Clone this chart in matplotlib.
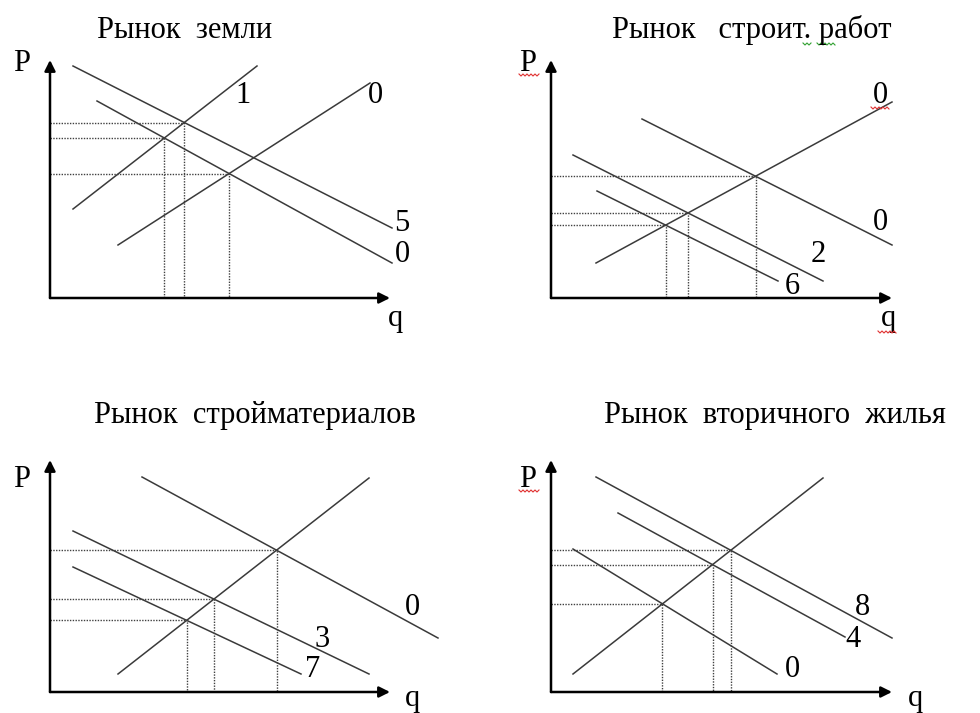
import numpy as np
import matplotlib.pyplot as plt

# отрезки кривых: (q0, P0, q1, P1), единицы - пиксели от начала координат панели
titles = ["Рынок  земли", "Рынок   строит. работ",
          "Рынок  стройматериалов", "Рынок  вторичного  жилья"]

land_lines = [(23, 232, 342, 70), (47, 197, 342, 35), (23, 89, 207, 232), (68, 53, 320, 215)]
land_tags = ["5", "0", "1", "0"]
land_eq = [(0, 2), (1, 2), (1, 3)]

works_lines = [(45, 35, 341, 196), (91, 179, 341, 53), (22, 143, 272, 17), (46, 107, 227, 17)]
works_tags = ["0", "0", "2", "6"]
works_eq = [(1, 0), (2, 0), (3, 0)]

mat_lines = [(68, 18, 319, 214), (92, 215, 388, 54), (23, 161, 319, 18), (23, 125, 251, 18)]
mat_tags = [None, "0", "3", "7"]
mat_eq = [(1, 0), (2, 0), (3, 0)]

flat_lines = [(22, 18, 272, 214), (45, 215, 341, 54), (67, 179, 294, 55), (22, 143, 226, 18)]
flat_tags = [None, "8", "4", "0"]
flat_eq = [(1, 0), (2, 0), (3, 0)]

# --- раскладка (пиксели, подписи по базовой линии) ---
W, H = 980, 713
origins = [(50, 298), (551, 298), (50, 692), (551, 692)]
regions = [(0, 0), (490, 0), (0, 356.5), (490, 356.5)]
ax_top = [238, 238, 232, 232]
ax_right = [340, 341, 340, 341]
tag_pos = [[(352, 67), (352, 36), (193, 195), (325, 195)],
           [(329, 195), (329, 68), (267, 36), (241, 4)],
           [None, (362, 77), (272, 45), (263, 15)],
           [None, (311, 77), (302, 45), (241, 15)]]
p_pos = [(-28, 227), (-23, 227), (-28, 205), (-23, 205)]
q_pos = [(345, -28), (337, -28), (362, -14), (364, -14)]
title_pos = [(185, 38), (752, 38), (255, 423), (775, 423)]

FONT = "Liberation Serif"
FS = 22
LINE_C = "#3a3a3a"
DOT_C = "#404040"


def cross(a, b):
    x1, y1, x2, y2 = a
    x3, y3, x4, y4 = b
    k1 = (y2 - y1) / (x2 - x1)
    k2 = (y4 - y3) / (x4 - x3)
    x = (y3 - y1 + k1 * x1 - k2 * x3) / (k1 - k2)
    return x, y1 + k1 * (x - x1)


fig = plt.figure(figsize=(W / 100, H / 100), dpi=100)

data = [(land_lines, land_tags, land_eq), (works_lines, works_tags, works_eq),
        (mat_lines, mat_tags, mat_eq), (flat_lines, flat_tags, flat_eq)]

for i, (lines, tags, eqs) in enumerate(data):
    ox, oy = origins[i]
    rx, ry = regions[i]
    rh = 356.5
    ax = fig.add_axes([rx / W, 1 - (ry + rh) / H, 490 / W, rh / H])
    ax.set_xlim(rx - ox, rx + 490 - ox)
    ax.set_ylim(oy - (ry + rh), oy - ry)
    ax.axis("off")

    # оси со стрелками
    for tip in [(0, ax_top[i]), (ax_right[i], 0)]:
        ax.annotate("", xy=tip, xytext=(0, 0),
                    arrowprops=dict(arrowstyle="-|>", color="black", lw=1.8,
                                    mutation_scale=16, shrinkA=0, shrinkB=0))

    for seg in lines:
        ax.plot([seg[0], seg[2]], [seg[1], seg[3]], color=LINE_C, lw=1.1)

    for a, b in eqs:
        x, y = cross(lines[a], lines[b])
        ax.plot([0, x, x], [y, y, 0], color=DOT_C, lw=1.0, ls=(0, (1, 1)))

    for t, pos in zip(tags, tag_pos[i]):
        if t is None:
            continue
        ax.text(pos[0], pos[1], t, family=FONT, fontsize=FS, ha="center", va="baseline")

    ax.text(*p_pos[i], "P", family=FONT, fontsize=FS, ha="center", va="baseline")
    ax.text(*q_pos[i], "q", family=FONT, fontsize=FS, ha="center", va="baseline")

# заголовки и подчёркивания проверки орфографии
ov = fig.add_axes([0, 0, 1, 1])
ov.set_xlim(0, W)
ov.set_ylim(H, 0)
ov.axis("off")
ov.patch.set_alpha(0)
for s, (x, y) in zip(titles, title_pos):
    ov.text(x, y, s, family=FONT, fontsize=FS, ha="center", va="baseline")


def squiggle(x0, x1, y, color):
    xs = np.arange(x0, x1 + 1, 2)
    ys = y + np.where(np.arange(len(xs)) % 2 == 0, -1.0, 1.0)
    ov.plot(xs, ys, color=color, lw=0.8)


for x0, x1, y in [(519, 539, 75), (871, 890, 108), (878, 897, 332), (519, 539, 491)]:
    squiggle(x0, x1, y, "#e03030")
for x0, x1, y in [(803, 811, 44), (817, 835, 44)]:
    squiggle(x0, x1, y, "#30a030")

fig.savefig("out.png", dpi=100)
